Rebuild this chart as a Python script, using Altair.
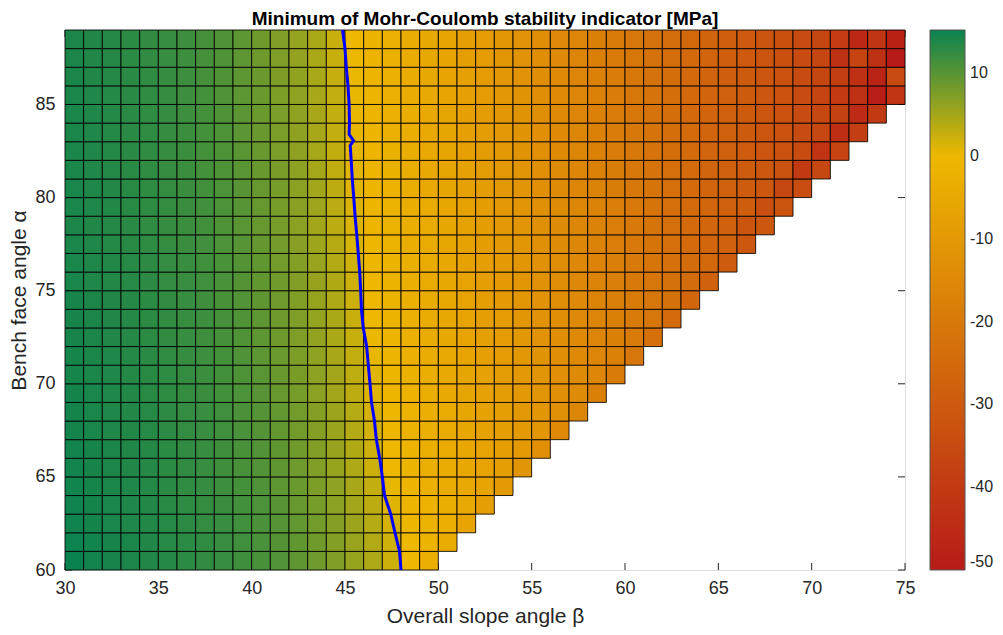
import altair as alt
import pandas as pd

# ---------------- data ----------------
beta_first = 30          # first overall slope angle column
alpha_rows = list(range(60, 89))   # bench face angle rows

v60 = [15.2, 14.6, 14.3, 14.0, 13.7, 13.4, 13.0, 12.6, 12.2, 11.7, 11.1, 10.4, 9.5, 8.5, 7.3, 5.9, 4.3, 2.3, -0.3, -3.0]
v61 = [15.0, 14.7, 14.3, 14.1, 13.7, 13.3, 13.0, 12.7, 12.1, 11.6, 11.0, 10.3, 9.4, 8.4, 7.1, 5.7, 4.1, 2.1, -0.4, -1.6, -4.5]
v62 = [14.8, 14.5, 14.2, 13.9, 13.6, 13.3, 12.9, 12.5, 12.1, 11.6, 10.9, 10.2, 9.3, 8.2, 7.0, 5.5, 3.8, 1.7, -0.6, -1.8, -3.1, -6.3]
v63 = [14.8, 14.5, 14.2, 13.9, 13.6, 13.2, 12.8, 12.4, 12.0, 11.4, 10.8, 10.0, 9.0, 7.9, 6.6, 5.1, 3.3, 1.0, -0.9, -2.2, -3.4, -4.7, -8.0]
v64 = [14.7, 14.4, 14.1, 13.8, 13.5, 13.1, 12.7, 12.3, 11.8, 11.3, 10.6, 9.7, 8.8, 7.6, 6.3, 4.7, 2.8, 0.4, -1.2, -2.5, -3.7, -5.0, -6.3, -9.7]
v65 = [14.6, 14.3, 14.0, 13.7, 13.4, 13.0, 12.6, 12.2, 11.7, 11.1, 10.4, 9.5, 8.5, 7.3, 5.9, 4.3, 2.3, -0.3, -1.5, -2.8, -4.0, -5.3, -6.6, -8.0, -11.4]
v66 = [14.6, 14.3, 14.0, 13.7, 13.4, 13.0, 12.6, 12.2, 11.7, 11.1, 10.4, 9.5, 8.4, 7.2, 5.8, 4.2, 2.2, -0.4, -1.6, -2.9, -4.1, -5.4, -6.7, -8.1, -9.5, -12.9]
v67 = [14.5, 14.2, 13.9, 13.6, 13.3, 12.9, 12.5, 12.1, 11.6, 11.0, 10.2, 9.3, 8.3, 7.0, 5.6, 3.9, 1.8, -0.5, -1.8, -3.0, -4.3, -5.6, -6.9, -8.3, -9.7, -11.1, -14.5]
v68 = [14.5, 14.2, 13.9, 13.6, 13.3, 12.9, 12.5, 12.1, 11.6, 10.9, 10.2, 9.3, 8.2, 7.0, 5.5, 3.8, 1.7, -0.6, -1.8, -3.1, -4.3, -5.6, -7.0, -8.4, -9.8, -11.2, -12.6, -16.0]
v69 = [14.5, 14.2, 13.9, 13.6, 13.2, 12.8, 12.4, 12.0, 11.4, 10.8, 10.0, 9.0, 7.9, 6.6, 5.1, 3.3, 1.0, -0.9, -2.2, -3.4, -4.7, -6.0, -7.3, -8.7, -10.1, -11.5, -12.9, -14.3, -17.8]
v70 = [14.4, 14.1, 13.8, 13.5, 13.2, 12.8, 12.4, 11.9, 11.4, 10.7, 9.9, 8.9, 7.8, 6.5, 5.0, 3.2, 0.9, -1.0, -2.3, -3.5, -4.8, -6.1, -7.4, -8.8, -10.2, -11.6, -13.0, -14.4, -15.9, -19.4]
v71 = [14.4, 14.1, 13.8, 13.5, 13.1, 12.7, 12.3, 11.8, 11.3, 10.6, 9.7, 8.8, 7.6, 6.3, 4.7, 2.8, 0.4, -1.2, -2.5, -3.7, -5.0, -6.3, -7.7, -9.1, -10.5, -11.9, -13.3, -14.7, -16.1, -17.6, -21.1]
v72 = [14.3, 14.0, 13.7, 13.4, 13.0, 12.6, 12.2, 11.7, 11.2, 10.5, 9.6, 8.6, 7.4, 6.1, 4.5, 2.6, 0.2, -1.3, -2.6, -3.8, -5.1, -6.4, -7.8, -9.2, -10.6, -12.0, -13.4, -14.8, -16.3, -17.8, -19.3, -22.8]
v73 = [14.3, 14.0, 13.7, 13.4, 13.0, 12.6, 12.2, 11.8, 11.2, 10.5, 9.6, 8.6, 7.4, 6.0, 4.5, 2.5, -0.1, -1.4, -2.7, -3.9, -5.2, -6.5, -7.9, -9.3, -10.7, -12.1, -13.5, -14.9, -16.4, -17.9, -19.4, -20.9, -24.4]
v74 = [14.3, 14.0, 13.7, 13.4, 13.0, 12.6, 12.2, 11.7, 11.1, 10.4, 9.5, 8.5, 7.3, 5.9, 4.3, 2.3, -0.3, -1.5, -2.8, -4.0, -5.3, -6.6, -8.0, -9.4, -10.8, -12.2, -13.6, -15.0, -16.5, -18.0, -19.5, -21.0, -22.5, -26.0]
v75 = [14.2, 13.9, 13.6, 13.3, 12.9, 12.5, 12.1, 11.6, 11.0, 10.3, 9.4, 8.4, 7.2, 5.8, 4.2, 2.2, -0.4, -1.6, -2.9, -4.1, -5.4, -6.7, -8.1, -9.5, -10.9, -12.3, -13.7, -15.1, -16.6, -18.1, -19.6, -21.1, -22.6, -24.1, -27.6]
v76 = [14.2, 13.9, 13.6, 13.3, 12.9, 12.5, 12.1, 11.6, 11.0, 10.3, 9.4, 8.3, 7.1, 5.7, 4.0, 2.0, -0.5, -1.7, -3.0, -4.2, -5.5, -6.9, -8.3, -9.7, -11.1, -12.5, -13.9, -15.3, -16.8, -18.3, -19.8, -21.3, -22.8, -24.3, -25.8, -29.3]
v77 = [14.1, 13.8, 13.5, 13.2, 12.8, 12.4, 12.0, 11.5, 10.8, 10.1, 9.2, 8.1, 6.9, 5.4, 3.7, 1.5, -0.7, -1.9, -3.2, -4.4, -5.7, -7.1, -8.5, -9.9, -11.3, -12.7, -14.1, -15.5, -17.0, -18.5, -20.0, -21.5, -23.0, -24.5, -26.0, -27.5, -31.0]
v78 = [14.0, 13.7, 13.4, 13.1, 12.7, 12.3, 11.9, 11.4, 10.7, 9.9, 9.0, 7.9, 6.6, 5.1, 3.4, 1.2, -0.8, -2.0, -3.3, -4.5, -5.8, -7.2, -8.6, -10.0, -11.4, -12.8, -14.2, -15.6, -17.1, -18.6, -20.1, -21.6, -23.1, -24.6, -26.1, -27.6, -31.5, -30.5]
v79 = [14.2, 13.9, 13.6, 13.2, 12.8, 12.4, 12.0, 11.5, 10.8, 10.1, 9.1, 8.0, 6.8, 5.3, 3.5, 1.3, -0.8, -2.0, -3.3, -4.5, -5.8, -7.2, -8.6, -10.0, -11.4, -12.8, -14.2, -15.6, -17.1, -18.6, -20.1, -21.6, -23.1, -24.6, -26.1, -27.6, -29.1, -33.5, -32.0]
v80 = [14.2, 13.9, 13.6, 13.2, 12.8, 12.4, 12.0, 11.4, 10.8, 10.0, 9.0, 7.9, 6.6, 5.1, 3.3, 1.0, -0.9, -2.2, -3.4, -4.7, -6.0, -7.3, -8.7, -10.1, -11.5, -12.9, -14.3, -15.8, -17.3, -18.8, -20.3, -21.8, -23.3, -24.8, -26.3, -27.8, -29.3, -30.8, -36.0, -34.0]
v81 = [14.1, 13.8, 13.5, 13.1, 12.7, 12.3, 11.9, 11.3, 10.7, 9.9, 8.9, 7.8, 6.5, 4.9, 3.1, 0.8, -1.0, -2.3, -3.5, -4.8, -6.1, -7.4, -8.8, -10.2, -11.6, -13.0, -14.4, -15.9, -17.4, -18.9, -20.4, -21.9, -23.4, -24.9, -26.4, -27.9, -29.4, -30.9, -32.5, -40.0, -36.0]
v82 = [14.1, 13.8, 13.5, 13.1, 12.7, 12.3, 11.9, 11.3, 10.7, 9.9, 8.9, 7.7, 6.4, 4.8, 3.0, 0.6, -1.0, -2.3, -3.5, -4.8, -6.1, -7.5, -8.9, -10.3, -11.7, -13.1, -14.5, -16.0, -17.5, -19.0, -20.5, -22.0, -23.5, -25.0, -26.5, -28.0, -29.5, -31.1, -32.7, -34.3, -42.0, -37.0]
v83 = [14.1, 13.8, 13.5, 13.1, 12.7, 12.3, 11.9, 11.3, 10.7, 9.8, 8.9, 7.7, 6.4, 4.7, 2.9, 0.5, -1.1, -2.4, -3.6, -4.9, -6.2, -7.5, -8.9, -10.3, -11.7, -13.1, -14.5, -16.0, -17.5, -19.0, -20.5, -22.0, -23.5, -25.0, -26.5, -28.0, -29.6, -31.2, -32.8, -34.4, -36.1, -44.0, -39.0]
v84 = [14.1, 13.8, 13.5, 13.1, 12.7, 12.3, 11.8, 11.3, 10.6, 9.8, 8.8, 7.7, 6.3, 4.7, 2.8, 0.4, -1.1, -2.4, -3.6, -4.9, -6.2, -7.6, -9.0, -10.4, -11.8, -13.2, -14.6, -16.1, -17.6, -19.1, -20.6, -22.1, -23.6, -25.1, -26.6, -28.1, -29.6, -31.2, -32.8, -34.4, -36.1, -37.8, -45.0, -40.0]
v85 = [14.1, 13.8, 13.5, 13.1, 12.7, 12.3, 11.8, 11.3, 10.6, 9.7, 8.8, 7.6, 6.3, 4.7, 2.8, 0.4, -1.2, -2.5, -3.7, -5.0, -6.3, -7.7, -9.1, -10.5, -11.9, -13.3, -14.7, -16.1, -17.6, -19.1, -20.6, -22.1, -23.6, -25.1, -26.6, -28.1, -29.6, -31.2, -32.8, -34.4, -37.0, -40.0, -43.0, -49.5, -42.0]
v86 = [14.0, 13.7, 13.4, 13.1, 12.7, 12.3, 11.8, 11.2, 10.5, 9.7, 8.7, 7.5, 6.2, 4.6, 2.7, 0.3, -1.3, -2.6, -3.8, -5.1, -6.4, -7.8, -9.2, -10.6, -12.0, -13.4, -14.8, -16.2, -17.7, -19.2, -20.7, -22.2, -23.7, -25.2, -26.7, -28.2, -29.7, -31.3, -32.9, -34.5, -36.2, -39.0, -43.0, -47.0, -35.0]
v87 = [14.0, 13.7, 13.4, 13.0, 12.6, 12.2, 11.8, 11.2, 10.5, 9.6, 8.6, 7.4, 6.1, 4.5, 2.6, 0.1, -1.4, -2.7, -3.9, -5.2, -6.5, -7.9, -9.3, -10.7, -12.1, -13.5, -14.9, -16.3, -17.8, -19.3, -20.8, -22.3, -23.8, -25.3, -26.8, -28.3, -29.8, -31.4, -33.0, -34.6, -36.3, -43.0, -37.0, -43.0, -50.0]
v88 = [14.0, 13.7, 13.4, 13.0, 12.6, 12.2, 11.8, 11.2, 10.5, 9.6, 8.6, 7.4, 6.0, 4.5, 2.5, -0.1, -1.4, -2.7, -3.9, -5.2, -6.5, -7.9, -9.3, -10.7, -12.1, -13.5, -14.9, -16.4, -17.9, -19.4, -20.9, -22.4, -23.9, -25.4, -26.9, -28.4, -29.9, -31.4, -33.0, -34.6, -36.3, -39.5, -46.0, -41.5, -48.0]

rows = [v60, v61, v62, v63, v64, v65, v66, v67, v68, v69, v70, v71, v72, v73, v74,
        v75, v76, v77, v78, v79, v80, v81, v82, v83, v84, v85, v86, v87, v88]

# zero contour (blue line)
contour_beta = [44.87, 45.0, 45.07, 45.16, 45.22, 45.24, 45.22, 45.46, 45.28, 45.33, 45.39,
                45.47, 45.54, 45.63, 45.71, 45.79, 45.84, 45.88, 45.98, 46.16, 46.25, 46.34,
                46.42, 46.58, 46.68, 46.86, 47.0, 47.12, 47.45, 47.68, 47.92, 48.0]
contour_alpha = [89, 88, 87, 86, 85, 84, 83.4, 83.05, 82.8, 82, 81, 80, 79, 78, 77, 76, 75,
                 74, 73, 72, 71, 70, 69, 68, 67, 66, 65, 64, 63, 62, 61, 60]

x_ticks = [30, 35, 40, 45, 50, 55, 60, 65, 70, 75]
y_ticks = [60, 65, 70, 75, 80, 85]
cbar_ticks = [-50, -40, -30, -20, -10, 0, 10]

title_text = "Minimum of Mohr-Coulomb stability indicator [MPa]"
x_title = "Overall slope angle β"
y_title = "Bench face angle α"

# ---------------- tables ----------------
recs = []
for a, vals in zip(alpha_rows, rows):
    for i, v in enumerate(vals):
        b = beta_first + i
        recs.append({"beta": b, "beta2": b + 1, "alpha": a, "alpha2": a + 1, "value": v})
cells = pd.DataFrame(recs)
contour = pd.DataFrame({"beta": contour_beta, "alpha": contour_alpha,
                        "idx": list(range(len(contour_beta)))})
xt = pd.DataFrame({"beta": x_ticks})
yt = pd.DataFrame({"alpha": y_ticks})

FONT = "Liberation Sans"
TXT = "#262626"
W, H = 840, 540

xscale = alt.Scale(domain=[30, 75], nice=False, zero=False)
yscale = alt.Scale(domain=[60, 89], nice=False, zero=False)

xaxis = alt.Axis(values=x_ticks, ticks=False, domain=False, grid=False, format="d",
                 labelFlush=False, labelFont=FONT, labelFontSize=18, labelColor=TXT,
                 labelPadding=9, titleFont=FONT, titleFontSize=21, titleColor=TXT,
                 titleFontWeight="normal", titlePadding=8)
yaxis = alt.Axis(values=y_ticks, ticks=False, domain=False, grid=False, format="d",
                 labelFlush=False, labelFont=FONT, labelFontSize=18, labelColor=TXT,
                 labelPadding=10, titleFont=FONT, titleFontSize=21, titleColor=TXT,
                 titleFontWeight="normal", titlePadding=5)


def X(field):
    return alt.X(field, scale=xscale, axis=xaxis, title=x_title)


def Y(field):
    return alt.Y(field, scale=yscale, axis=yaxis, title=y_title)


tick_style = dict(color=TXT, strokeWidth=1)
ticks_bottom = alt.Chart(xt).mark_rule(**tick_style).encode(
    x=X("beta:Q"), y=alt.value(H), y2=alt.value(H - 7))
ticks_top = alt.Chart(xt).mark_rule(**tick_style).encode(
    x=X("beta:Q"), y=alt.value(0), y2=alt.value(7))
ticks_left = alt.Chart(yt).mark_rule(**tick_style).encode(
    y=Y("alpha:Q"), x=alt.value(0), x2=alt.value(7))
ticks_right = alt.Chart(yt).mark_rule(**tick_style).encode(
    y=Y("alpha:Q"), x=alt.value(W), x2=alt.value(W - 7))

heat = alt.Chart(cells).mark_rect(stroke="#000000", strokeWidth=1, strokeOpacity=0.85).encode(
    x=X("beta:Q"),
    x2="beta2:Q",
    y=Y("alpha:Q"),
    y2="alpha2:Q",
    color=alt.Color("value:Q",
                    scale=alt.Scale(domain=[-50, 0, 15.2],
                                    range=["#B71B18", "#EEB800", "#0A8250"],
                                    interpolate="rgb"),
                    legend=alt.Legend(orient="none", legendX=W + 25, legendY=0,
                                      direction="vertical", gradientLength=H,
                                      gradientThickness=35, values=cbar_ticks,
                                      labelExpr="datum.value < 0 ? '-' + abs(datum.value) : '' + datum.value",
                                      labelFont=FONT, labelFontSize=16, labelColor=TXT,
                                      labelOffset=5, labelOverlap=False,
                                      labelBaseline="middle",
                                      gradientStrokeColor="#555555", gradientStrokeWidth=1),
                    title=None),
)

line = alt.Chart(contour).mark_line(color="#0000FF", strokeWidth=3).encode(
    x=X("beta:Q"),
    y=Y("alpha:Q"),
    order="idx:Q",
)

title_mark = alt.Chart(pd.DataFrame({"t": [title_text]})).mark_text(
    font=FONT, fontSize=19, fontWeight="bold", color="#000000",
    align="center", baseline="alphabetic").encode(
    text="t:N", x=alt.value(W / 2), y=alt.value(-5))

chart = alt.layer(ticks_bottom, ticks_top, ticks_left, ticks_right, heat, line,
                  title_mark).properties(
    width=W, height=H,
    padding={"left": 57, "top": 22, "right": 90, "bottom": 57},
    autosize=alt.AutoSizeParams(type="none"),
).configure_view(stroke="#404040", strokeWidth=1).configure(background="white")

chart.save("out.html", embed_options={"renderer": "svg", "actions": False})
